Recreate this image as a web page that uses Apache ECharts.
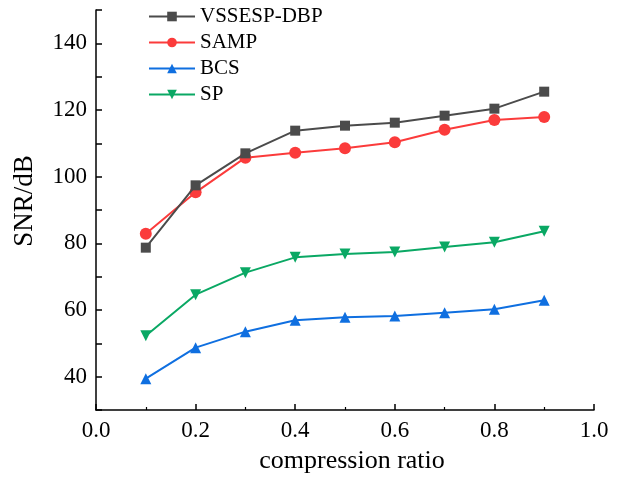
<!DOCTYPE html>
<html><head><meta charset="utf-8">
<script src="https://cdn.jsdelivr.net/npm/echarts@6/dist/echarts.min.js"></script>
<style>html,body{margin:0;padding:0;background:#fff}#c{width:617px;height:479px}</style>
</head><body><div id="c"></div>
<script>
const ratios = [0.1,0.2,0.3,0.4,0.5,0.6,0.7,0.8,0.9];
const vssesp = [78.7,97.4,107.0,113.8,115.3,116.2,118.3,120.4,125.5];
const samp   = [82.9,95.3,105.7,107.2,108.5,110.3,114.1,117.0,117.9];
const bcs    = [39.4,48.7,53.5,56.9,57.8,58.2,59.2,60.2,62.9];
const sp     = [52.3,64.6,71.2,75.8,76.8,77.4,78.9,80.3,83.6];
const names  = ['VSSESP-DBP','SAMP','BCS','SP'];
const colors = ['#4b4b4b','#fb3b3b','#0f6fe0','#0aa864'];
const symbols = ['rect','circle','triangle','triangle'];
const rot = [0,0,0,180];
const sizes = [10,12,11,11];
const all = [vssesp,samp,bcs,sp];
const font = '"Liberation Serif","Times New Roman",serif';
const chart = echarts.init(document.getElementById('c'));
chart.setOption({
  animation:false,
  grid:{left:96,right:23,top:10,bottom:69},
  legend:{
    orient:'vertical',left:143,top:1,itemGap:5,itemWidth:46,itemHeight:12,
    textStyle:{fontFamily:font,fontSize:21,color:'#000'},
    data:names
  },
  xAxis:{
    type:'value',min:0,max:1,interval:0.2,
    name:'compression ratio',nameLocation:'middle',nameGap:38,
    nameTextStyle:{fontFamily:font,fontSize:26,color:'#000',padding:[0,0,0,14]},
    axisLine:{show:true,lineStyle:{color:'#000',width:1.5}},
    axisTick:{show:true,inside:true,length:6,lineStyle:{color:'#000',width:1.5}},
    minorTick:{show:true,splitNumber:2,length:3,lineStyle:{color:'#000',width:1.2}},
    axisLabel:{fontFamily:font,fontSize:23,color:'#000',margin:9,formatter:v=>v.toFixed(1)},
    splitLine:{show:false}
  },
  yAxis:{
    type:'value',min:30,max:150,
    axisLabel:{fontFamily:font,fontSize:23,color:'#000',margin:9,
      formatter:v=>(v%20===0 && v>=40 && v<=140)?String(v):''},
    interval:10,
    name:'SNR/dB',nameLocation:'middle',nameGap:58,
    nameTextStyle:{fontFamily:font,fontSize:27,color:'#000',padding:[0,0,0,18]},
    axisLine:{show:true,lineStyle:{color:'#000',width:1.5}},
    axisTick:{show:true,inside:true,length:6,lineStyle:{color:'#000',width:1.5}},
    splitLine:{show:false}
  },
  series: all.map((d,i)=>({
    name:names[i],type:'line',
    data:ratios.map((x,j)=>[x,d[j]]),
    symbol:symbols[i],symbolSize:sizes[i],symbolRotate:rot[i],
    lineStyle:{color:colors[i],width:2},
    itemStyle:{color:colors[i]},
    z: 10-i
  }))
});
</script></body></html>
